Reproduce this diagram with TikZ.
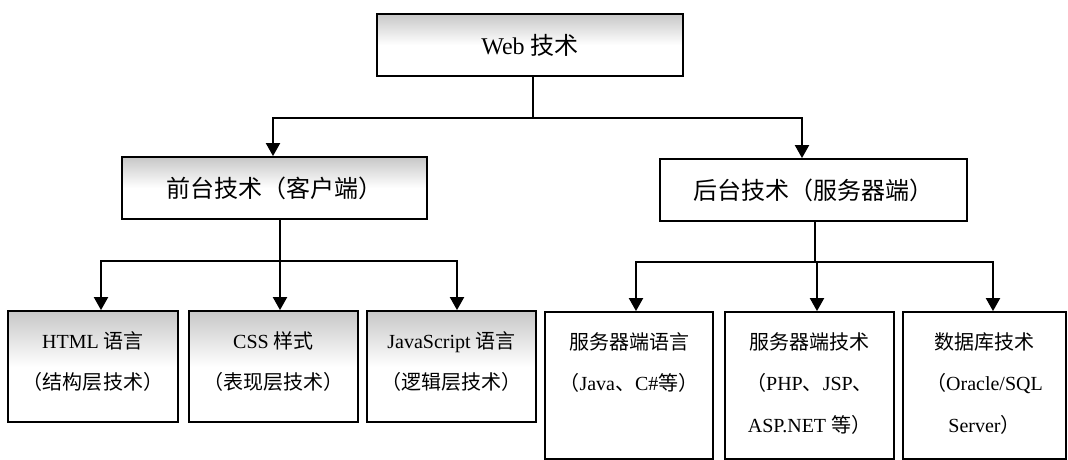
\documentclass[tikz,border=0pt]{standalone}
\usepackage{fontspec}
\setmainfont{Liberation Serif}
\newfontfamily\cjk{Noto Sans CJK SC}
\newcommand\zh[1]{{\cjk #1}}
\usetikzlibrary{arrows.meta,positioning}

\begin{document}
\begin{tikzpicture}[x=1pt,y=1pt,
    box/.style={draw=black, line width=1.8pt, inner sep=0pt},
    grey box/.style={box, top color=black!22, bottom color=white, middle color=white},
    big/.style={font=\fontsize{24}{28}\selectfont},
    txt/.style={inner sep=0pt, align=center, anchor=north, font=\fontsize{20}{41.5}\selectfont},
    link/.style={line width=2pt},
    arrow/.style={line width=2pt, -{Triangle[width=14pt,length=13pt]}}]
    \useasboundingbox (0,0) rectangle (1068,-460);
    \fill[white] (0,0) rectangle (1068,-460);

    \node[grey box, big, minimum width=306pt, minimum height=62pt] (web) at (530,-45) {Web \zh{技术}};
    \node[grey box, big, minimum width=305pt, minimum height=62pt] (front) at (274.5,-188) {\zh{前台技术（客户端）}};
    \node[box, big, minimum width=307pt, minimum height=62pt] (back) at (813.5,-190) {\zh{后台技术（服务器端）}};

    \node[grey box, minimum width=170pt, minimum height=111pt] (html) at (93,-366.5) {};
    \node[grey box, minimum width=169pt, minimum height=111pt] (css) at (273.5,-366.5) {};
    \node[grey box, minimum width=169pt, minimum height=111pt] (js) at (451.5,-366.5) {};
    \node[box, minimum width=168pt, minimum height=147pt] (lang) at (629,-385.5) {};
    \node[box, minimum width=169pt, minimum height=147pt] (tech) at (809.5,-385.5) {};
    \node[box, minimum width=163pt, minimum height=147pt] (db) at (984.5,-385.5) {};

    \node[txt] (htmlt) at ([yshift=-21pt]html.north) {HTML \zh{语言}\\\zh{（结构层技术）}};
    \node[txt] (csst) at ([yshift=-21pt]css.north) {CSS \zh{样式}\\\zh{（表现层技术）}};
    \node[txt] (jst) at ([yshift=-21pt]js.north) {JavaScript \zh{语言}\\\zh{（逻辑层技术）}};
    \node[txt] (langt) at ([yshift=-21pt]lang.north) {\zh{服务器端语言}\\\zh{（}Java\zh{、}C\#\zh{等）}};
    \node[txt] (techt) at ([yshift=-21pt]tech.north) {\zh{服务器端技术}\\\zh{（}PHP\zh{、}JSP\zh{、}\\ASP.NET \zh{等）}};
    \node[txt] (dbt) at ([yshift=-21pt]db.north) {\zh{数据库技术}\\\zh{（}Oracle/SQL\\Server\zh{）}};

    \coordinate (bus) at (533,-118);
    \coordinate (fbus) at (280,-261);
    \coordinate (bbus) at (815,-262);

    \draw[link] (web.south -| bus) -- (bus);
    \draw[arrow] (bus) -| ([xshift=-1.5pt]front.north);
    \draw[arrow] (bus) -| ([xshift=-11.5pt]back.north);

    \draw[link] (front.south -| fbus) -- (fbus);
    \draw[arrow] (fbus) -| ([xshift=8pt]html.north);
    \draw[arrow] (fbus) -- (fbus |- css.north);
    \draw[arrow] (fbus) -| ([xshift=5.5pt]js.north);

    \draw[link] (back.south -| bbus) -- (bbus);
    \draw[arrow] (bbus) -| ([xshift=7pt]lang.north);
    \draw[arrow] (bbus) -| ([xshift=7.5pt]tech.north);
    \draw[arrow] (bbus) -| ([xshift=8.5pt]db.north);
\end{tikzpicture}
\end{document}
